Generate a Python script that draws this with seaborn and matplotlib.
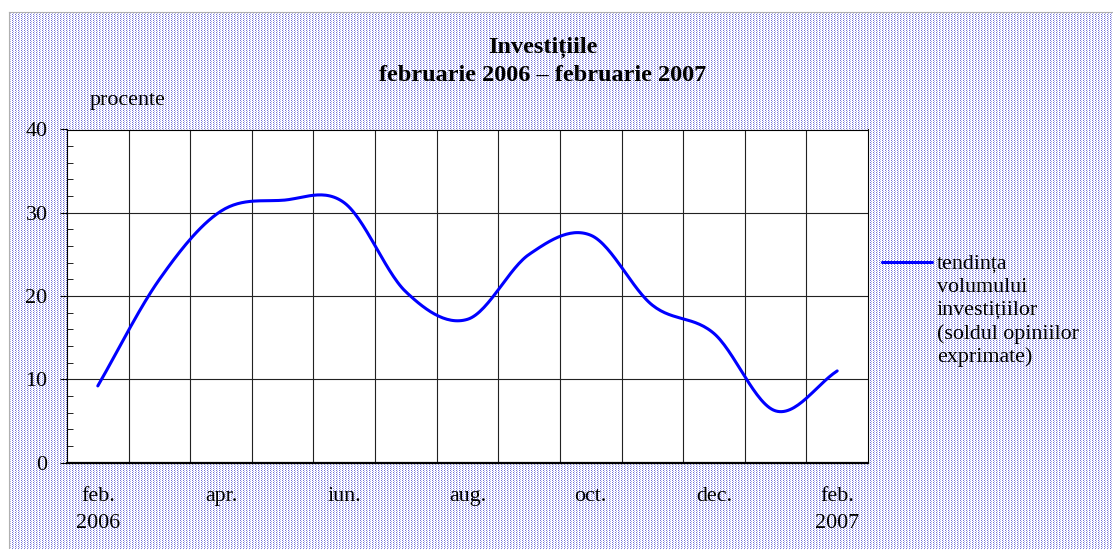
import numpy as np
import matplotlib
matplotlib.use("Agg")
import matplotlib.pyplot as plt
import matplotlib.transforms as mtransforms
import seaborn as sns

# months feb 2006 .. feb 2007
months = ["feb.", "mar.", "apr.", "mai", "iun.", "iul.", "aug.",
          "sep.", "oct.", "nov.", "dec.", "ian.", "feb."]
years = {0: "2006", 12: "2007"}
shown = [0, 2, 4, 6, 8, 10, 12]
values = [9.2, 22.0, 30.2, 31.5, 31.2, 20.5, 17.2, 25.0, 27.3, 18.9, 15.5, 6.2, 11.0]

title_1 = "Investițiile"
title_2 = "februarie 2006 – februarie 2007"
legend_lines = ["tendința", "volumului", "investițiilor", "(soldul opiniilor", "exprimate)"]

W, H = 1113, 549
FS = 15.8


def smooth(x, y, n=30):
    # catmull-rom style smoothing, like the spreadsheet "smoothed line" option
    x = np.asarray(x, float)
    y = np.asarray(y, float)
    px = np.concatenate([[2 * x[0] - x[1]], x, [2 * x[-1] - x[-2]]])
    py = np.concatenate([[2 * y[0] - y[1]], y, [2 * y[-1] - y[-2]]])
    xs, ys = [], []
    t = np.linspace(0, 1, n, endpoint=False)
    for i in range(1, len(px) - 2):
        for arr, out in ((px, xs), (py, ys)):
            p0, p1, p2, p3 = arr[i - 1], arr[i], arr[i + 1], arr[i + 2]
            out.extend(0.5 * ((2 * p1) + (-p0 + p2) * t
                              + (2 * p0 - 5 * p1 + 4 * p2 - p3) * t ** 2
                              + (-p0 + 3 * p1 - 3 * p2 + p3) * t ** 3))
    xs.append(x[-1])
    ys.append(y[-1])
    return np.array(xs), np.array(ys)


sns.set_style("white")
plt.rcParams["font.family"] = ["Liberation Serif", "DejaVu Serif"]
plt.rcParams["text.color"] = "black"
plt.rcParams["xtick.color"] = "black"
plt.rcParams["ytick.color"] = "black"

fig = plt.figure(figsize=(W / 100, H / 100), dpi=100)
fig.patch.set_facecolor("white")

# dotted background panel
bg = fig.add_axes([9 / W, 0, (W - 9) / W, (H - 12) / H], zorder=0)
ph, pw = H - 12, W - 9
pat = np.ones((ph, pw, 3))
rr, cc = np.mgrid[0:ph, 0:pw]
dark = (rr % 2 == 0) & (cc % 3 == 0)
light = (rr % 2 == 1) & (cc % 3 == 1)
pat[dark] = [0.45, 0.45, 0.85]
pat[light] = [0.70, 0.70, 0.92]
bg.imshow(pat, interpolation="nearest", aspect="auto")
bg.set_xticks([])
bg.set_yticks([])
for s in bg.spines.values():
    s.set_color("#b0b0b0")
    s.set_linewidth(0.8)
bg.spines["right"].set_visible(False)
bg.spines["bottom"].set_visible(False)

left, right, top, bottom = 67, 868, 129.5, 462.5
ax = fig.add_axes([left / W, 1 - bottom / H, (right - left) / W, (bottom - top) / H], zorder=2)
ax.set_facecolor("white")

xs, ys = smooth(range(len(values)), values)
sns.lineplot(x=xs, y=ys, sort=False, estimator=None, color="#0000ff", linewidth=2.2,
             ax=ax, label=legend_lines[0])

ax.set_xlim(-0.5, len(months) - 0.5)
ax.set_ylim(0, 40)
ax.set_yticks([0, 10, 20, 30, 40])
ax.set_yticks(np.arange(0, 41, 2), minor=True)
ax.set_xticks(range(len(months)))
ax.set_xticklabels([m if i in shown else "" for i, m in enumerate(months)])
ax.set_xticks(np.arange(0.5, len(months) - 1, 1), minor=True)

ax.grid(False)
ax.xaxis.grid(True, which="minor", color="#222222", linewidth=0.8)
ax.yaxis.grid(True, which="major", color="#222222", linewidth=0.8)
ax.tick_params(axis="y", which="major", direction="out", length=5, width=0.8,
               color="black", labelcolor="black", labelsize=FS, pad=9, left=True)
ax.tick_params(axis="y", which="minor", direction="in", length=4, width=0.6,
               color="black", left=True)
ax.tick_params(axis="x", which="both", length=0, labelsize=FS, labelcolor="black", pad=17.5)
for s in ax.spines.values():
    s.set_color("black")
    s.set_linewidth(0.8)
ax.spines["bottom"].set_linewidth(1.6)
ax.set_xlabel("")
ax.set_ylabel("")

# year under first and last month
trans = mtransforms.blended_transform_factory(ax.transData, ax.transAxes)
for pos, yr in years.items():
    ax.text(pos, -(523.5 - bottom) / (bottom - top), yr, transform=trans,
            ha="center", va="center", fontsize=FS, color="black")

fig.text(543 / W, 1 - 47 / H, title_1, ha="center", va="center",
         fontsize=17.5, fontweight="bold", color="black")
fig.text(543 / W, 1 - 75.5 / H, title_2, ha="center", va="center",
         fontsize=17.5, fontweight="bold", color="black")
fig.text(90 / W, 1 - 100 / H, "procente", ha="left", va="center", fontsize=FS, color="black")

leg = ax.legend(loc="center left", bbox_to_anchor=(882 / W, 1 - 264 / H),
                bbox_transform=fig.transFigure, frameon=False, fontsize=FS,
                handlelength=2.3, handletextpad=0.2, borderpad=0, borderaxespad=0)
for t in leg.get_texts():
    t.set_color("black")
for i, line in enumerate(legend_lines[1:], start=1):
    fig.text(937 / W, 1 - (264 + 23.3 * i) / H, line, ha="left", va="center",
             fontsize=FS, color="black")

fig.savefig("out.png", dpi=100)
